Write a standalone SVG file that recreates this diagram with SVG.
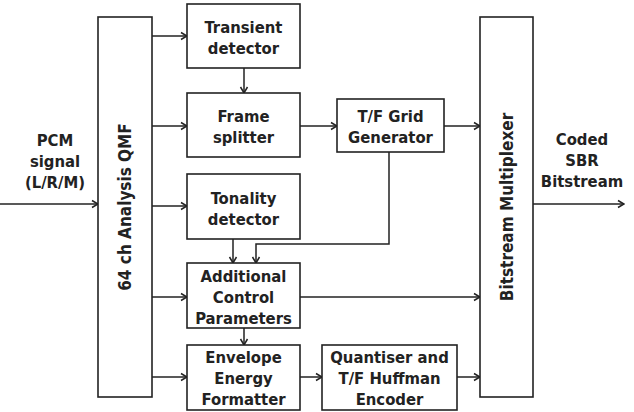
<svg xmlns="http://www.w3.org/2000/svg" width="634" height="412" viewBox="0 0 634 412">
<style>
.box{fill:#fff;stroke:#222;stroke-width:1.6}
.t{font-family:"DejaVu Sans Condensed","DejaVu Sans","Liberation Sans",sans-serif;font-weight:bold;font-size:16.5px;fill:#222;text-anchor:middle}
.v{font-size:17px}
.c{fill:none;stroke:#222;stroke-width:1.5;marker-end:url(#ah)}
</style>
<defs>
<marker id="ah" viewBox="0 0 10 10" refX="9" refY="5" markerWidth="10" markerHeight="10" markerUnits="userSpaceOnUse" orient="auto">
<path d="M3,1.5 L9,5 L3,8.5" fill="none" stroke="#222" stroke-width="1.5"/>
</marker>
</defs>
<g id="connectors">
<path class="c" d="M0,204 H98"/>
<path class="c" d="M152,36 H187"/>
<path class="c" d="M152,126 H187"/>
<path class="c" d="M152,206 H187"/>
<path class="c" d="M152,297 H187"/>
<path class="c" d="M152,377 H187"/>
<path class="c" d="M244,68 V93"/>
<path class="c" d="M300,126 H337"/>
<path class="c" d="M444,126 H480"/>
<path class="c" d="M389,152 V244 H256 V263"/>
<path class="c" d="M233,239 V263"/>
<path class="c" d="M300,297 H480"/>
<path class="c" d="M244,328 V345"/>
<path class="c" d="M300,377 H322"/>
<path class="c" d="M457,377 H480"/>
<path class="c" d="M533,204 H624"/>
</g>
<g id="qmf">
<rect class="box" x="98" y="17" width="54" height="380"/>
<text class="t v" transform="translate(131,207) rotate(-90)">64 ch Analysis QMF</text>
</g>
<g id="mux">
<rect class="box" x="480" y="17" width="53" height="380"/>
<text class="t v" transform="translate(513,207) rotate(-90)">Bitstream Multiplexer</text>
</g>
<g id="transient">
<rect class="box" x="187" y="4" width="113" height="64"/>
<text class="t" x="243.5" y="33">Transient</text>
<text class="t" x="243.5" y="54">detector</text>
</g>
<g id="frame">
<rect class="box" x="187" y="93" width="113" height="64"/>
<text class="t" x="243.5" y="122">Frame</text>
<text class="t" x="243.5" y="143">splitter</text>
</g>
<g id="tfgrid">
<rect class="box" x="337" y="99" width="107" height="53"/>
<text class="t" x="390.5" y="122">T/F Grid</text>
<text class="t" x="390.5" y="143">Generator</text>
</g>
<g id="tonality">
<rect class="box" x="187" y="174" width="113" height="65"/>
<text class="t" x="243.5" y="204">Tonality</text>
<text class="t" x="243.5" y="225">detector</text>
</g>
<g id="additional">
<rect class="box" x="187" y="263" width="113" height="65"/>
<text class="t" x="243.5" y="282">Additional</text>
<text class="t" x="243.5" y="303">Control</text>
<text class="t" x="243.5" y="324">Parameters</text>
</g>
<g id="envelope">
<rect class="box" x="187" y="345" width="113" height="65"/>
<text class="t" x="243.5" y="363">Envelope</text>
<text class="t" x="243.5" y="384">Energy</text>
<text class="t" x="243.5" y="405">Formatter</text>
</g>
<g id="quantiser">
<rect class="box" x="322" y="345" width="135" height="65"/>
<text class="t" x="389.5" y="363">Quantiser and</text>
<text class="t" x="389.5" y="384">T/F Huffman</text>
<text class="t" x="389.5" y="405">Encoder</text>
</g>
<g id="input">
<text class="t" x="55" y="146">PCM</text>
<text class="t" x="55" y="167">signal</text>
<text class="t" x="55" y="188">(L/R/M)</text>
</g>
<g id="output">
<text class="t" x="582" y="145">Coded</text>
<text class="t" x="582" y="166">SBR</text>
<text class="t" x="582" y="187">Bitstream</text>
</g>
</svg>
